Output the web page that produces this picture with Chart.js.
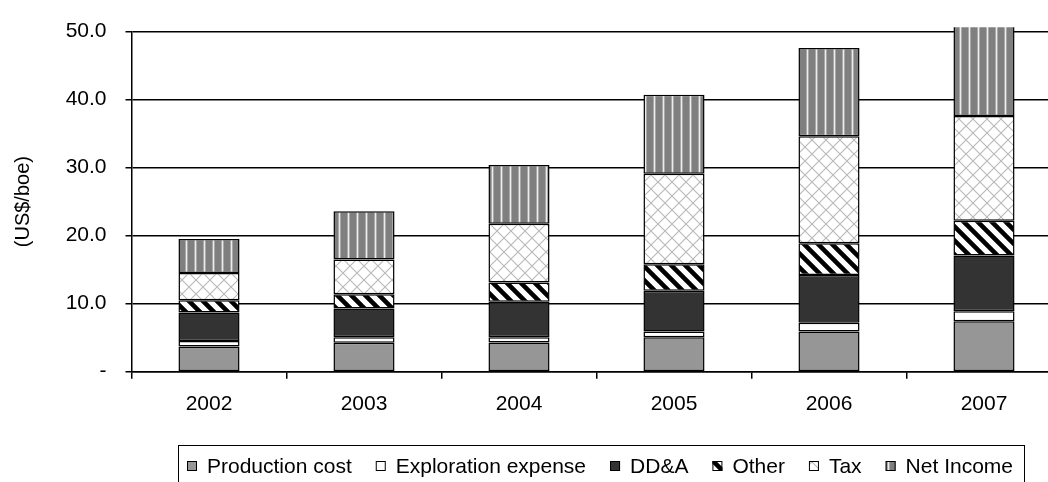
<!DOCTYPE html>
<html>
<head>
<meta charset="utf-8">
<script src="https://cdn.jsdelivr.net/npm/chart.js@4.4.1/dist/chart.umd.min.js"></script>
<style>
  html, body { margin: 0; padding: 0; overflow: hidden; background: #fff; }
  #wrap { position: relative; width: 1080px; height: 482px; }
</style>
</head>
<body>
<div id="wrap"><canvas id="chart" width="1080" height="482"></canvas></div>
<script>
// Unit cost and margin breakdown per barrel of oil equivalent
const years = ['2002', '2003', '2004', '2005', '2006', '2007'];
const productionCost     = [3.7, 4.25, 4.3, 5.05, 5.9, 7.4];
const explorationExpense = [0.8, 0.8, 0.75, 0.85, 1.3, 1.5];
const ddA                = [4.2, 4.25, 5.25, 6.0, 7.0, 8.2];
const other              = [1.8, 2.1, 2.8, 3.9, 4.7, 5.1];
const tax                = [4.0, 5.1, 8.65, 13.3, 15.7, 15.4];
const netIncome          = [5.0, 7.1, 8.65, 11.6, 13.0, 14.0];
const yTicks = [0, 10, 20, 30, 40, 50];
const yTitle = '(US$/boe)';

const FONT = '"Liberation Sans", Arial, sans-serif';

const canvas = document.getElementById('chart');
const ctx = canvas.getContext('2d');

// ---- fill patterns ----
function makeTile(w, h, paint) {
  const c = document.createElement('canvas');
  c.width = w; c.height = h;
  const g = c.getContext('2d');
  paint(g, w, h);
  return ctx.createPattern(c, 'repeat');
}

// vertical light stripes on mid grey
const netIncomeFill = makeTile(9, 9, (g, w, h) => {
  g.fillStyle = '#7f7f7f'; g.fillRect(0, 0, w, h);
  g.fillStyle = '#a9a9a9'; g.fillRect(5, 0, 1, h);
  g.fillStyle = '#ececec'; g.fillRect(6, 0, 1, h);
  g.fillStyle = '#a9a9a9'; g.fillRect(7, 0, 1, h);
});

// light grey diamond lattice on white
const taxFill = makeTile(14, 14, (g, w, h) => {
  g.fillStyle = '#ffffff'; g.fillRect(0, 0, w, h);
  g.strokeStyle = '#b8b8b8'; g.lineWidth = 1.1;
  g.beginPath();
  g.moveTo(0, 0); g.lineTo(w, h);
  g.moveTo(w, 0); g.lineTo(0, h);
  g.stroke();
});

// wide black downward diagonals on white
const otherFill = makeTile(14, 14, (g, w, h) => {
  g.fillStyle = '#ffffff'; g.fillRect(0, 0, w, h);
  g.strokeStyle = '#000000'; g.lineWidth = 4.6;
  g.beginPath();
  for (let k = -1; k <= 1; k++) {
    g.moveTo(k * w - 2, -2);
    g.lineTo(k * w + w + 2, h + 2);
  }
  g.stroke();
});

function series(label, data, fill, extra) {
  return Object.assign({
    label, data,
    backgroundColor: fill,
    borderColor: '#000000',
    borderWidth: 1.5,
    borderSkipped: false,
    categoryPercentage: 1.0,
    barPercentage: 0.394
  }, extra || {});
}

// boxed legend along the bottom
const boxLegend = {
  id: 'boxLegend',
  afterDraw(chart) {
    const c = chart.ctx;
    const items = chart.data.datasets;
    c.save();
    c.font = '21px ' + FONT;
    c.textBaseline = 'middle';
    c.textAlign = 'left';
    const startX = 187, endX = 1013, cy = 466, box = 10, gap = 10;
    let used = 0;
    items.forEach(d => { used += box + gap + c.measureText(d.label).width; });
    const spacing = (endX - startX - used) / (items.length - 1);

    c.strokeStyle = '#000'; c.lineWidth = 1;
    c.strokeRect(178.5, 445.5, 846, 60);

    let x = startX;
    items.forEach(d => {
      c.fillStyle = d.backgroundColor;
      c.fillRect(x, cy - box / 2, box, box);
      c.strokeStyle = '#000';
      c.lineWidth = 1;
      c.strokeRect(x + 0.5, cy - box / 2 + 0.5, box - 1, box - 1);
      x += box + gap;
      c.fillStyle = '#000';
      c.fillText(d.label, x, cy + 1);
      x += c.measureText(d.label).width + spacing;
    });
    c.restore();
  }
};

new Chart(ctx, {
  type: 'bar',
  data: {
    labels: years,
    datasets: [
      series('Production cost', productionCost, '#969696'),
      series('Exploration expense', explorationExpense, '#ffffff'),
      series('DD&A', ddA, '#333333'),
      series('Other', other, otherFill),
      series('Tax', tax, taxFill),
      series('Net Income', netIncome, netIncomeFill, { clip: { left: 0, top: 4.3, right: 0, bottom: 0 } })
    ]
  },
  options: {
    responsive: false,
    animation: false,
    devicePixelRatio: 1,
    layout: { padding: { top: 26, right: 18.5, left: 0, bottom: 0 } },
    plugins: {
      legend: { display: false },
      tooltip: { enabled: false }
    },
    scales: {
      x: {
        stacked: true,
        offset: true,
        grid: {
          display: true, offset: true, drawOnChartArea: false, drawTicks: true,
          tickLength: 7, color: '#000', lineWidth: 1.5
        },
        border: { display: true, color: '#000', width: 1.5 },
        ticks: { color: '#000', font: { family: FONT, size: 21 }, padding: 13, maxRotation: 0 },
        afterFit(scale) { scale.height = 110.3; }
      },
      y: {
        stacked: true,
        min: yTicks[0],
        max: yTicks[yTicks.length - 1],
        afterBuildTicks(scale) { scale.ticks = yTicks.map(v => ({ value: v })); },
        grid: { color: '#000', lineWidth: 1.5, tickLength: 6, drawTicks: true },
        border: { display: true, color: '#000', width: 1.5 },
        ticks: {
          color: '#000',
          font: { family: FONT, size: 21 },
          padding: 19,
          callback: v => (v === 0 ? '-' : Number(v).toFixed(1))
        },
        title: {
          display: true, text: yTitle, color: '#000',
          font: { family: FONT, size: 20 },
          padding: { top: 11, bottom: 0 }
        },
        afterFit(scale) { scale.width = 131.5; }
      }
    }
  },
  plugins: [boxLegend]
});
</script>
</body>
</html>
